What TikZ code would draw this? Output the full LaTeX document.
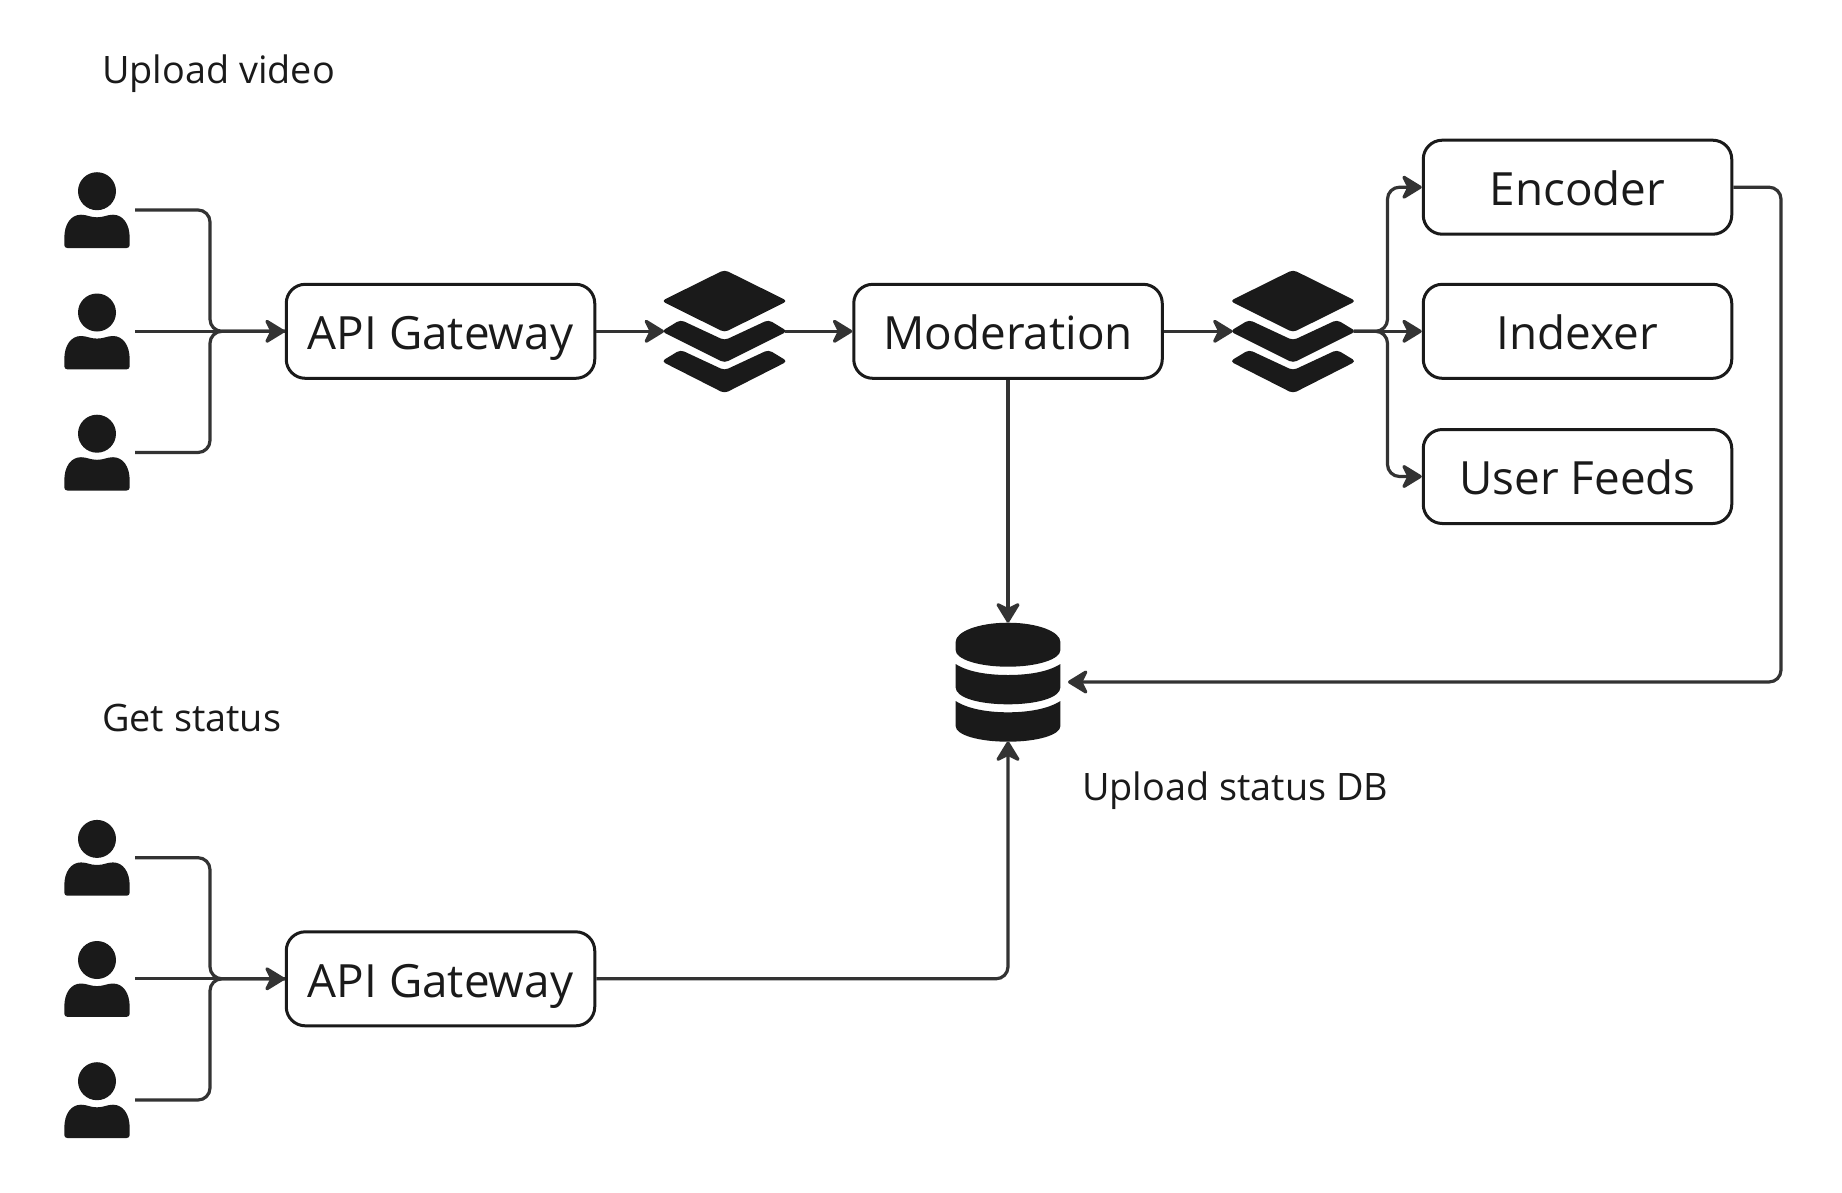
\documentclass[tikz,border=0pt]{standalone}
\usepackage{fontspec}
\setmainfont{Open Sans}
\usetikzlibrary{arrows.meta}
\definecolor{ink}{HTML}{1A1A1A}
\definecolor{wire}{HTML}{333333}
\tikzset{
  x=1pt,y=-1pt,
  svcbox/.style={draw=ink,line width=3pt,rounded corners=19pt,fill=white,minimum width=308.5pt,minimum height=94pt,inner sep=0pt,text=ink,text height=36.5pt,text depth=0pt,font=\fontsize{45.8}{54}\selectfont},
  caption/.style={anchor=base west,inner sep=0pt,text=ink,font=\fontsize{37.8}{44}\selectfont},
  slot/.style={inner sep=0pt,outer sep=0pt},
  wirepath/.style={draw=wire,line width=3.2pt,rounded corners=12pt},
  arrowed/.style={wirepath,-{Stealth[length=23pt,width=28pt,inset=7pt,round]}},
  person/.pic={
    \fill[ink] (0,-18.8) circle[radius=19];
    \fill[ink] (-29.7,38) .. controls (-31.5,38) and (-32.7,36.8) .. (-32.7,35)
      -- (-32.7,28) .. controls (-32.7,14) and (-26,4.7) .. (-16,4.7)
      .. controls (-10,4.7) and (-7,7.3) .. (0,7.3)
      .. controls (7,7.3) and (10,4.7) .. (16,4.7)
      .. controls (26,4.7) and (32.7,14) .. (32.7,28)
      -- (32.7,35) .. controls (32.7,36.8) and (31.5,38) .. (29.7,38) -- cycle;
  },
  layers/.pic={
    \fill[ink,rounded corners=4pt] (-63,-30.3) -- (0,-61.5) -- (63,-30.3) -- (0,1) -- cycle;
    \fill[ink,rounded corners=4pt] (-63,0) -- (-44,-11.5) -- (0,9) -- (44,-11.5) -- (63,0) -- (0,31.5) -- cycle;
    \fill[ink,rounded corners=4pt] (-63,30) -- (-44,18.5) -- (0,39) -- (44,18.5) -- (63,30) -- (0,62) -- cycle;
  },
  dbicon/.pic={
    \fill[ink] (-52.4,-40) .. controls (-52.4,-50.5) and (-29,-59.3) .. (0,-59.3)
      .. controls (29,-59.3) and (52.4,-50.5) .. (52.4,-40)
      -- (52.4,-32) .. controls (52.4,-22.6) and (29,-15.3) .. (0,-15.3)
      .. controls (-29,-15.3) and (-52.4,-22.6) .. (-52.4,-32) -- cycle;
    \fill[ink] (-52.4,-18) .. controls (-40,-10) and (-20,-7) .. (0,-7)
      .. controls (20,-7) and (40,-10) .. (52.4,-18)
      -- (52.4,5.3) .. controls (52.4,15.7) and (29,22.3) .. (0,22.3)
      .. controls (-29,22.3) and (-52.4,15.7) .. (-52.4,5.3) -- cycle;
    \fill[ink] (-52.4,19) .. controls (-40,27) and (-20,30.3) .. (0,30.3)
      .. controls (20,30.3) and (40,27) .. (52.4,19)
      -- (52.4,44) .. controls (52.4,53) and (29,59.7) .. (0,59.7)
      .. controls (-29,59.7) and (-52.4,53) .. (-52.4,44) -- cycle;
  },
}
\begin{document}
\begin{tikzpicture}
\useasboundingbox (0,0) rectangle (1842,1192);
\fill[white] (0,0) rectangle (1842,1192);

% captions
\node[caption] (capUpload) at (102,83) {Upload video};
\node[caption] (capStatus) at (102,731) {Get status};
\node[caption] (capDb) at (1082,800) {Upload status DB};

% icon slots
\foreach \n/\yy in {u1/210,u2/331.3,u3/452.5,s1/857.7,s2/978.8,s3/1100}{
  \node[slot,minimum width=76pt,minimum height=76pt] (\n) at (97,\yy) {};
  \pic at (\n) {person};
}
\node[slot,minimum width=121pt,minimum height=121pt] (q1) at (724.5,331.3) {};
\pic at (q1) {layers};
\node[slot,minimum width=121pt,minimum height=121pt] (q2) at (1293,331.3) {};
\pic at (q2) {layers};
\node[slot,minimum width=120pt,minimum height=119pt] (db) at (1008,682) {};
\pic at (db) {dbicon};

% boxes
\node[svcbox] (gw1) at (440.5,331.3) {API Gateway};
\node[svcbox] (mod) at (1008,331.3) {Moderation};
\node[svcbox] (enc) at (1577.5,187.2) {Encoder};
\node[svcbox] (idx) at (1577.5,331.3) {Indexer};
\node[svcbox] (feeds) at (1577.5,476.5) {User Feeds};
\node[svcbox] (gw2) at (440.5,978.8) {API Gateway};

% junction points
\coordinate (j1) at (210,331.3);
\coordinate (j2) at (210,978.8);
\coordinate (j3) at (1387.5,331.3);
\coordinate (r1) at (1781,187.2);
\coordinate (r2) at (1781,682);

% connectors
\draw[wirepath] (u1.east) -| (j1) -- (gw1.west);
\draw[wirepath] (u3.east) -| (j1) -- (gw1.west);
\draw[arrowed] (u2.east) -- (gw1.west);
\draw[wirepath] (s1.east) -| (j2) -- (gw2.west);
\draw[wirepath] (s3.east) -| (j2) -- (gw2.west);
\draw[arrowed] (s2.east) -- (gw2.west);
\draw[arrowed] (gw1.east) -- (q1.west);
\draw[arrowed] (q1.east) -- (mod.west);
\draw[arrowed] (mod.east) -- (q2.west);
\draw[arrowed] (q2.east) -- (j3) |- (enc.west);
\draw[arrowed] (q2.east) -- (idx.west);
\draw[arrowed] (q2.east) -- (j3) |- (feeds.west);
\draw[arrowed] (mod.south) -- (db.north);
\draw[arrowed] (enc.east) -- (r1) -- (r2) -- (db.east);
\draw[arrowed] (gw2.east) -| (db.south);
\end{tikzpicture}
\end{document}
